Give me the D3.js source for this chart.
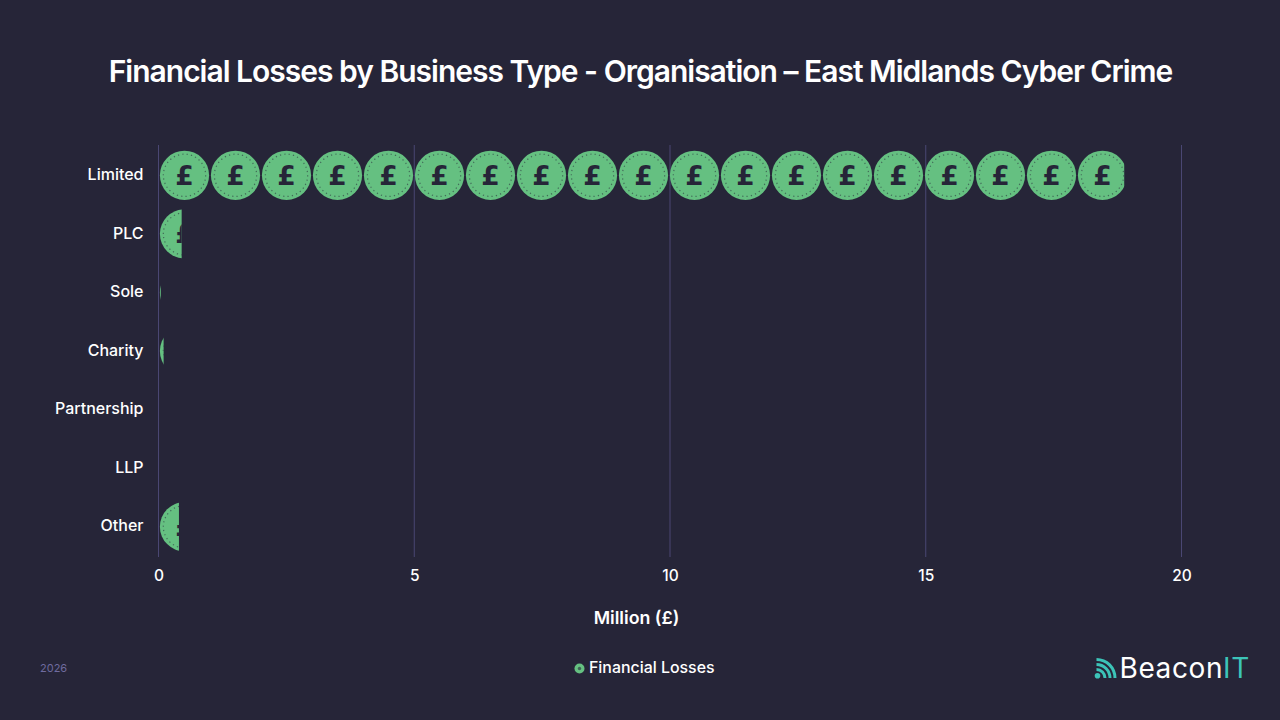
<!DOCTYPE html>
<html>
<head>
<meta charset="utf-8">
<title>Financial Losses by Business Type</title>
<script src="https://cdn.jsdelivr.net/npm/d3@7"></script>
<style>
  html, body { margin: 0; padding: 0; background: #262538; }
  svg { display: block; }
  text { font-family: Inter, "Noto Sans", sans-serif; fill: #ffffff; }
</style>
</head>
<body>
<svg id="chart" width="1280" height="720"></svg>
<script>
const categories = ["Limited", "PLC", "Sole", "Charity", "Partnership", "LLP", "Other"];
const lossesMillions = [18.88, 0.453, 0.045, 0.1, 0, 0, 0.4];
const xTickValues = [0, 5, 10, 15, 20];
const titleText = "Financial Losses by Business Type - Organisation – East Midlands Cyber Crime";
const axisTitle = "Million (£)";
const legendLabel = "Financial Losses";
const yearLabel = "2026";

const COIN = "#65c081", INK = "#262538", GRID = "#4a4773", TEAL = "#3cc4b8";

const svg = d3.select("#chart");
svg.append("rect").attr("width", 1280).attr("height", 720).attr("fill", INK);

const x = d3.scaleLinear().domain([0, 20]).range([158.5, 1181.5]);
const y = d3.scaleBand().domain(categories).range([146, 556]);
const coinRadius = 24.6;
const coinPitch = 51;          // coins repeat at a fixed pitch along the bar
const coinOffset = 26;

// vertical grid
svg.append("g").selectAll("line").data(xTickValues).join("line")
  .attr("x1", d => x(d)).attr("x2", d => x(d))
  .attr("y1", 145).attr("y2", 557)
  .attr("stroke", GRID).attr("stroke-width", 1);

// one coin face: disc, dotted inner ring and pound sign
function drawCoin(g, r) {
  g.append("circle").attr("r", r).attr("fill", COIN);
  g.append("circle").attr("r", r * 0.86).attr("fill", "none")
    .attr("stroke", INK).attr("stroke-opacity", 0.55)
    .attr("stroke-width", 1.2).attr("stroke-dasharray", "1.2 3.2");
  g.append("text").attr("text-anchor", "middle").attr("y", r * 0.38)
    .attr("font-size", r * 1.08).attr("font-weight", 700)
    .style("font-family", "'DejaVu Sans', sans-serif").style("fill", INK).text("£");
}

const defs = svg.append("defs");
const rows = svg.append("g").selectAll("g").data(categories.map((c, i) => ({ c, v: lossesMillions[i], i })))
  .join("g").filter(d => d.v > 0);

rows.each(function (d) {
  const id = "clip-" + d.i;
  defs.append("clipPath").attr("id", id).append("rect")
    .attr("x", x(0)).attr("y", y(d.c))
    .attr("width", x(d.v) - x(0)).attr("height", y.bandwidth());
  const row = d3.select(this).attr("clip-path", `url(#${id})`);
  d3.range(Math.ceil(d.v)).forEach(n => {
    const coin = row.append("g")
      .attr("transform", `translate(${x(0) + coinOffset + n * coinPitch},${y(d.c) + y.bandwidth() / 2})`);
    drawCoin(coin, coinRadius);
  });
});

// axes
const xAxis = svg.append("g").attr("transform", "translate(0,557)")
  .call(d3.axisBottom(x).tickValues(xTickValues).tickSize(0).tickPadding(13));
xAxis.select(".domain").remove();
xAxis.selectAll("text").attr("font-size", 15.5).attr("font-weight", 500).style("fill", "#fff");

const yAxis = svg.append("g").attr("transform", "translate(158.5,-0.4)")
  .call(d3.axisLeft(y).tickSize(0).tickPadding(15));
yAxis.select(".domain").remove();
yAxis.selectAll("text").attr("font-size", 16).attr("font-weight", 500).style("fill", "#fff");

// titles
svg.append("text").attr("x", 640.5).attr("y", 82).attr("text-anchor", "middle")
  .attr("font-size", 30).attr("font-weight", 600).attr("letter-spacing", -1).text(titleText);
svg.append("text").attr("x", 636.5).attr("y", 624).attr("text-anchor", "middle")
  .attr("font-size", 17.8).attr("font-weight", 600).text(axisTitle);

// footer
svg.append("text").attr("x", 40).attr("y", 672).attr("font-size", 11)
  .style("fill", "#6f6b9f").text(yearLabel);

const legend = svg.append("g");
drawLegendMark(legend.append("g").attr("transform", "translate(579.5,668.5)"));
function drawLegendMark(g) {
  g.append("circle").attr("r", 5).attr("fill", COIN);
  g.append("circle").attr("r", 1.7).attr("fill", INK).attr("fill-opacity", 0.6);
}
legend.append("text").attr("x", 589).attr("y", 673).attr("font-size", 15.9)
  .attr("font-weight", 500).text(legendLabel);

// wordmark with signal icon
const logo = svg.append("g").attr("transform", "translate(1096.5,678)");
logo.append("circle").attr("cx", 1).attr("cy", -2.3).attr("r", 2.8).attr("fill", TEAL);
const arc = d3.arc().startAngle(0).endAngle(Math.PI / 2);
[[7, 10], [12, 15], [17, 20]].forEach(([r0, r1]) => {
  logo.append("path").attr("d", arc.innerRadius(r0).outerRadius(r1)()).attr("fill", TEAL);
});
const wordmark = svg.append("text").attr("x", 1119.5).attr("y", 678)
  .attr("font-size", 28).attr("font-weight", 400).attr("letter-spacing", 0.6);
wordmark.append("tspan").text("Beacon");
wordmark.append("tspan").style("fill", TEAL).text("IT");
</script>
</body>
</html>
